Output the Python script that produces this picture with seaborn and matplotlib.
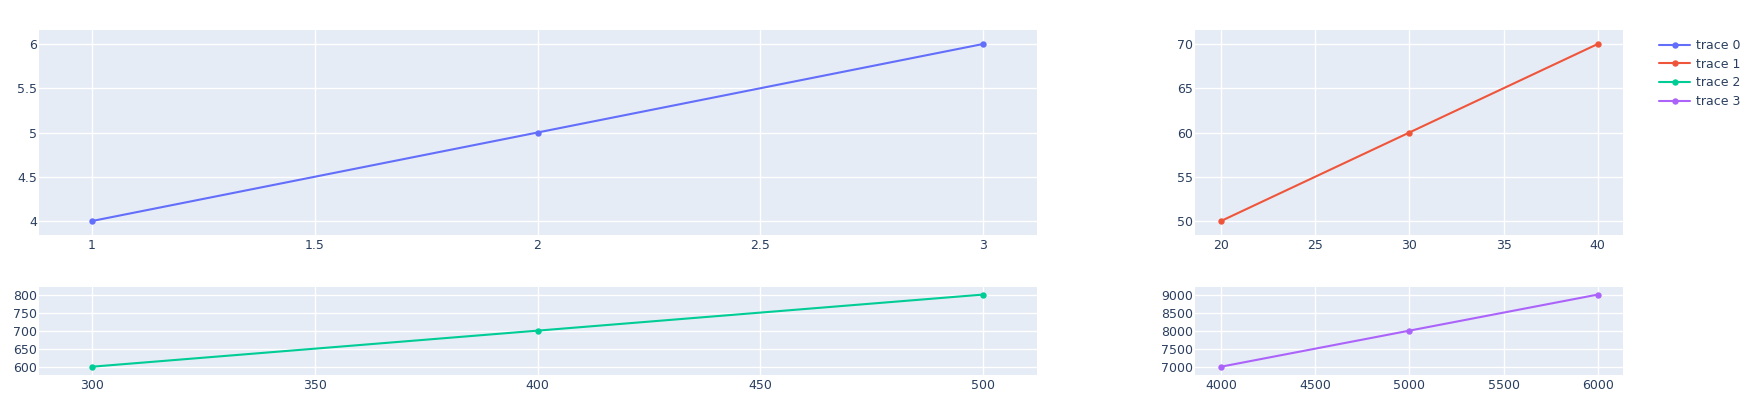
import matplotlib
matplotlib.use("Agg")
import matplotlib.pyplot as plt
import seaborn as sns
import pandas as pd
from matplotlib.ticker import MultipleLocator

sns.set_theme(style="darkgrid")
plt.rcParams['font.family'] = ['DejaVu Sans']

# Data
trace0_x = [1, 2, 3]
trace0_y = [4, 5, 6]
trace1_x = [20, 30, 40]
trace1_y = [50, 60, 70]
trace2_x = [300, 400, 500]
trace2_y = [600, 700, 800]
trace3_x = [4000, 5000, 6000]
trace3_y = [7000, 8000, 9000]
names = ["trace 0", "trace 1", "trace 2", "trace 3"]

colors = ["#636efa", "#EF553B", "#00cc96", "#ab63fa"]
bg = "#E5ECF6"
txt = "#2a3f5f"

W, H = 1749, 417
fig = plt.figure(figsize=(W / 100, H / 100), dpi=100)

def rect(l, t, r, b):
    return [l / W, 1 - b / H, (r - l) / W, (b - t) / H]

ax0 = fig.add_axes(rect(39, 30, 1037, 235))
ax1 = fig.add_axes(rect(1195, 30, 1623, 235))
ax2 = fig.add_axes(rect(39, 287, 1037, 375))
ax3 = fig.add_axes(rect(1195, 287, 1623, 375))

specs = [
    (ax0, trace0_x, trace0_y, (0.881, 3.121), (3.842, 6.158), 0.5, 0.5),
    (ax1, trace1_x, trace1_y, (18.62, 41.34), (48.42, 71.58), 5, 5),
    (ax2, trace2_x, trace2_y, (288.1, 512.1), (577, 821), 50, 50),
    (ax3, trace3_x, trace3_y, (3862, 6134), (6770, 9210), 500, 500),
]

handles = []
for i, (ax, xs, ys, xl, yl, xstep, ystep) in enumerate(specs):
    df = pd.DataFrame({"x": xs, "y": ys})
    sns.lineplot(data=df, x="x", y="y", ax=ax, color=colors[i], marker="o",
                 markersize=4.6, markeredgewidth=0, linewidth=1.5, label=names[i],
                 legend=False)
    handles.append(ax.lines[0])
    ax.set_facecolor(bg)
    ax.set_xlim(*xl)
    ax.set_ylim(*yl)
    ax.xaxis.set_major_locator(MultipleLocator(xstep))
    ax.yaxis.set_major_locator(MultipleLocator(ystep))
    ax.grid(True, color="white", linewidth=1.0)
    ax.set_axisbelow(True)
    for s in ax.spines.values():
        s.set_visible(False)
    ax.tick_params(axis="both", length=0, labelsize=9, colors=txt)
    ax.tick_params(axis="x", pad=3)
    ax.tick_params(axis="y", pad=1.5)
    ax.set_xlabel("")
    ax.set_ylabel("")
    ax.xaxis.set_major_formatter(matplotlib.ticker.FuncFormatter(
        lambda v, p: ("%g" % v)))
    ax.yaxis.set_major_formatter(matplotlib.ticker.FuncFormatter(
        lambda v, p: ("%g" % v)))

leg = fig.legend(handles=handles, labels=names, loc="upper left",
                 bbox_to_anchor=(1659 / W, 1 - 39 / H), frameon=False,
                 fontsize=9, handlelength=2.5, handletextpad=0.5,
                 labelspacing=0.45, borderpad=0, borderaxespad=0,
                 numpoints=1)
for t in leg.get_texts():
    t.set_color(txt)

fig.savefig("out.png", dpi=100, facecolor="white")
